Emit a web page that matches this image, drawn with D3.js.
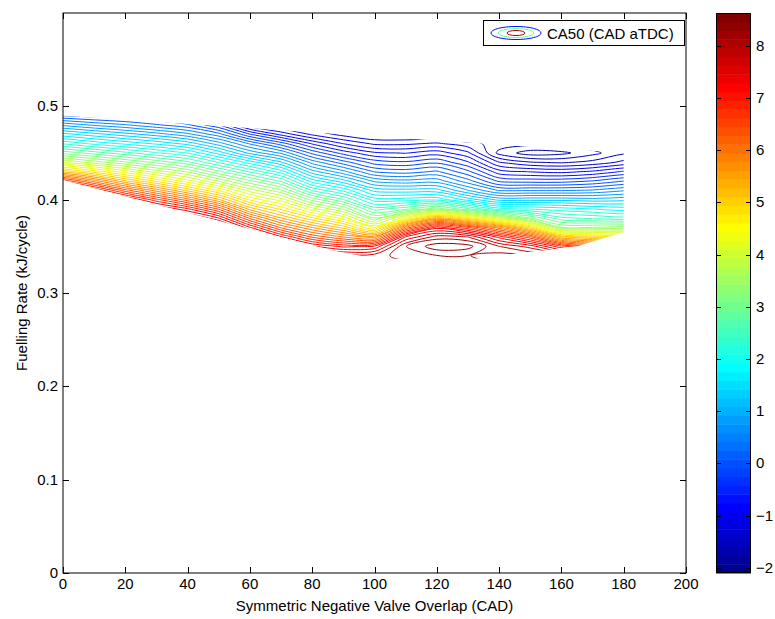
<!DOCTYPE html>
<html>
<head>
<meta charset="utf-8">
<script src="https://cdn.jsdelivr.net/npm/d3@7"></script>
<style>
  html, body { margin: 0; padding: 0; background: #fff; }
  svg { display: block; font-family: "Liberation Sans", Arial, Helvetica, sans-serif; }
</style>
</head>
<body>
<svg id="chart" width="775" height="619"></svg>
<script>
// Sample grid: symmetric negative valve overlap (CAD) and fuelling rate (kJ/cycle)
const overlapCAD = [-10, 0, 10, 20, 30, 40, 50, 60, 70, 80, 90, 100, 110, 120, 130, 140, 150, 160, 170, 180, 190];
const fuelRate = [0.50, 0.49, 0.48, 0.47, 0.46, 0.45, 0.44, 0.43, 0.42, 0.41, 0.40, 0.39, 0.38, 0.37, 0.36, 0.35, 0.34, 0.33, 0.32];

// CA50 (CAD aTDC), one column per overlap value, rows follow fuelRate
const ca50ByOverlap = [
  [-0.3, 0.2, 1.0, 1.75, 2.5, 3.3, 4.2, 5.4, 6.9, 7.9, 8.4, 8.6, 8.6, 8.6, 8.6, 8.6, 8.6, 8.6, 8.6],
  [-0.5, 0.0, 0.8, 1.55, 2.3, 3.1, 4.0, 5.2, 6.7, 7.8, 8.4, 8.6, 8.6, 8.6, 8.6, 8.6, 8.6, 8.6, 8.6],
  [-0.7, -0.1, 0.6, 1.35, 2.05, 2.85, 3.7, 4.75, 6.0, 7.2, 8.1, 8.5, 8.6, 8.6, 8.6, 8.6, 8.6, 8.6, 8.6],
  [-0.8, -0.2, 0.45, 1.15, 1.85, 2.6, 3.4, 4.3, 5.3, 6.4, 7.5, 8.3, 8.6, 8.6, 8.6, 8.6, 8.6, 8.6, 8.6],
  [-0.9, -0.3, 0.25, 0.95, 1.65, 2.35, 3.1, 3.9, 4.8, 5.8, 6.8, 7.7, 8.4, 8.6, 8.6, 8.6, 8.6, 8.6, 8.6],
  [-1.0, -0.5, 0.05, 0.7, 1.4, 2.1, 2.8, 3.55, 4.3, 5.2, 6.2, 7.2, 8.0, 8.5, 8.6, 8.6, 8.6, 8.6, 8.6],
  [-1.3, -1.0, -0.4, 0.3, 0.95, 1.6, 2.3, 3.0, 3.75, 4.6, 5.5, 6.5, 7.4, 8.2, 8.6, 8.6, 8.6, 8.6, 8.6],
  [-1.6, -1.5, -1.2, -0.4, 0.4, 1.0, 1.8, 2.5, 3.2, 3.9, 4.6, 5.4, 6.3, 7.2, 8.0, 8.5, 8.6, 8.6, 8.6],
  [-1.8, -1.7, -1.5, -0.9, -0.1, 0.6, 1.3, 2.0, 2.7, 3.4, 4.1, 4.8, 5.5, 6.3, 7.2, 8.0, 8.5, 8.6, 8.6],
  [-2.0, -1.9, -1.7, -1.3, -0.65, -0.05, 0.55, 1.15, 1.8, 2.5, 3.3, 4.1, 4.9, 5.7, 6.5, 7.4, 8.2, 8.6, 8.6],
  [-2.0, -2.0, -1.8, -1.55, -1.05, -0.5, 0.1, 0.7, 1.35, 2.05, 2.75, 3.55, 4.35, 5.2, 6.1, 7.1, 7.9, 8.3, 8.4],
  [-2.1, -2.0, -1.9, -1.7, -1.3, -0.8, -0.3, 0.2, 0.8, 1.4, 2.0, 2.65, 3.4, 4.4, 5.8, 7.2, 7.9, 8.1, 8.2],
  [-2.1, -2.0, -1.9, -1.72, -1.3, -0.85, -0.38, 0.12, 0.7, 1.35, 2.0, 2.9, 4.4, 6.2, 7.6, 8.2, 8.1, 7.9, 7.9],
  [-2.1, -2.0, -1.9, -1.75, -1.22, -0.72, -0.25, 0.25, 0.75, 1.35, 2.05, 3.3, 5.5, 7.3, 8.1, 8.55, 8.2, 7.8, 7.7],
  [-2.1, -2.0, -2.0, -1.85, -1.4, -1.0, -0.6, -0.15, 0.3, 0.85, 1.6, 2.8, 4.8, 6.8, 8.0, 8.5, 8.2, 7.9, 7.8],
  [-2.1, -2.1, -2.0, -1.9, -1.55, -1.75, -1.25, -0.75, -0.25, 0.4, 1.2, 2.2, 4.0, 6.0, 7.3, 8.0, 8.3, 8.3, 8.3],
  [-2.0, -2.0, -2.0, -1.9, -1.6, -2.0, -1.45, -0.85, -0.3, 0.4, 1.2, 2.1, 3.2, 5.0, 6.6, 7.7, 8.2, 8.4, 8.4],
  [-1.9, -1.9, -1.85, -1.8, -1.55, -1.95, -1.5, -0.9, -0.3, 0.4, 1.2, 2.0, 2.6, 3.4, 5.3, 7.0, 8.0, 8.4, 8.4],
  [-1.8, -1.8, -1.75, -1.7, -1.5, -1.75, -1.4, -0.8, -0.2, 0.45, 1.15, 1.9, 2.5, 3.4, 5.0, 6.6, 7.8, 8.3, 8.4],
  [-1.7, -1.7, -1.65, -1.6, -1.45, -1.5, -1.2, -0.6, 0.0, 0.6, 1.2, 1.8, 2.4, 3.5, 4.8, 6.3, 7.5, 8.2, 8.4],
  [-1.7, -1.7, -1.6, -1.55, -1.4, -1.45, -1.1, -0.5, 0.1, 0.7, 1.3, 1.9, 2.5, 3.6, 5.0, 6.5, 7.6, 8.2, 8.4]
];

// Outline of the tested operating region
const hullOverlap = [0, 180, 180, 165, 150, 130, 100, 86, 0];
const hullFuel = [0.490, 0.450, 0.365, 0.350, 0.344, 0.336, 0.337, 0.346, 0.421];

// Colour limits, number of contour levels and tick values
const colorLimits = [-2.1, 8.63];
const levelCount = 50;
const xTicks = [0, 20, 40, 60, 80, 100, 120, 140, 160, 180, 200];
const yTicks = [0, 0.1, 0.2, 0.3, 0.4, 0.5];
const cbarTicks = [-2, -1, 0, 1, 2, 3, 4, 5, 6, 7, 8];

// MATLAB-style jet colormap with m entries
function jet(m) {
  const n = Math.ceil(m / 4);
  const u = [];
  for (let i = 1; i <= n; i++) u.push(i / n);
  for (let i = 0; i < n - 1; i++) u.push(1);
  for (let i = n; i >= 1; i--) u.push(i / n);
  const off = Math.ceil(n / 2) - (m % 4 === 1 ? 1 : 0);
  const J = d3.range(m).map(() => [0, 0, 0]);
  u.forEach((val, k) => {
    const g = off + k + 1, r = g + n, b = g - n;
    if (r >= 1 && r <= m) J[r - 1][0] = val;
    if (g >= 1 && g <= m) J[g - 1][1] = val;
    if (b >= 1 && b <= m) J[b - 1][2] = val;
  });
  return J.map(c => d3.rgb(c[0] * 255, c[1] * 255, c[2] * 255).formatHex());
}
const cmap = jet(64);
function colorOf(v) {
  const t = (v - colorLimits[0]) / (colorLimits[1] - colorLimits[0]);
  return cmap[Math.max(0, Math.min(63, Math.floor(t * 64)))];
}

const svg = d3.select("#chart");
const plot = { left: 63, right: 686, top: 13, bottom: 573 };
const cbar = { left: 716, right: 751, top: 13, bottom: 573 };

const x = d3.scaleLinear().domain([0, 200]).range([plot.left, plot.right]);
const y = d3.scaleLinear().domain([0, 0.6]).range([plot.bottom, plot.top]);

// Contour lines
const nx = overlapCAD.length, ny = fuelRate.length;
const grid = new Array(nx * ny);
for (let j = 0; j < ny; j++)
  for (let i = 0; i < nx; i++)
    grid[j * nx + i] = ca50ByOverlap[i][j];

const step = (colorLimits[1] - colorLimits[0]) / (levelCount + 1);
const levels = d3.range(1, levelCount + 1).map(k => colorLimits[0] + k * step);

const gx = d3.scaleLinear().domain([0.5, nx - 0.5]).range([overlapCAD[0], overlapCAD[nx - 1]]);
const gy = d3.scaleLinear().domain([0.5, ny - 0.5]).range([fuelRate[0], fuelRate[ny - 1]]);

const contours = d3.contours().size([nx, ny]).smooth(true).thresholds(levels)(grid);

const defs = svg.append("defs");
defs.append("clipPath").attr("id", "region")
  .append("path")
  .attr("d", d3.line()(hullOverlap.map((o, k) => [x(o), y(hullFuel[k])])) + "Z");

const ringLine = d3.line().curve(d3.curveCatmullRomClosed.alpha(0.5));
const gC = svg.append("g").attr("clip-path", "url(#region)");
contours.forEach(c => {
  const col = colorOf(c.value);
  c.coordinates.forEach(poly => {
    poly.forEach(ring => {
      const pts = ring.slice(0, -1).map(p => [x(gx(p[0])), y(gy(p[1]))]);
      gC.append("path")
        .attr("d", ringLine(pts))
        .attr("fill", "none")
        .attr("stroke", col)
        .attr("stroke-width", 1);
    });
  });
});

// Axes frame and ticks
const axisG = svg.append("g");
axisG.append("rect")
  .attr("x", plot.left).attr("y", plot.top)
  .attr("width", plot.right - plot.left).attr("height", plot.bottom - plot.top)
  .attr("fill", "none").attr("stroke", "#000").attr("stroke-width", 1);

const tl = 6;
xTicks.forEach(t => {
  const px = Math.round(x(t)) + 0.5;
  axisG.append("line").attr("x1", px).attr("x2", px).attr("y1", plot.bottom).attr("y2", plot.bottom - tl).attr("stroke", "#000");
  axisG.append("line").attr("x1", px).attr("x2", px).attr("y1", plot.top).attr("y2", plot.top + tl).attr("stroke", "#000");
  axisG.append("text").attr("x", x(t)).attr("y", plot.bottom + 16)
    .attr("text-anchor", "middle").attr("font-size", 15).text(d3.format("d")(t));
});
yTicks.forEach(t => {
  const py = Math.round(y(t)) + 0.5;
  axisG.append("line").attr("x1", plot.left).attr("x2", plot.left + tl).attr("y1", py).attr("y2", py).attr("stroke", "#000");
  axisG.append("line").attr("x1", plot.right).attr("x2", plot.right - tl).attr("y1", py).attr("y2", py).attr("stroke", "#000");
  axisG.append("text").attr("x", plot.left - 5).attr("y", y(t) + 5)
    .attr("text-anchor", "end").attr("font-size", 15).text(t === 0 ? "0" : d3.format(".1f")(t));
});

svg.append("text").attr("x", (plot.left + plot.right) / 2).attr("y", 611)
  .attr("text-anchor", "middle").attr("font-size", 15)
  .text("Symmetric Negative Valve Overlap (CAD)");
svg.append("text")
  .attr("transform", `translate(27,${(plot.top + plot.bottom) / 2}) rotate(-90)`)
  .attr("text-anchor", "middle").attr("font-size", 15)
  .text("Fuelling Rate (kJ/cycle)");

// Legend
const lg = svg.append("g");
lg.append("rect").attr("x", 483.5).attr("y", 20.5).attr("width", 201).attr("height", 25)
  .attr("fill", "#fff").attr("stroke", "#000").attr("stroke-width", 1);
const lcx = 516, lcy = 33;
[[25, 6.5, cmap[8]], [18, 4.5, cmap[30]], [9, 2.5, cmap[60]]].forEach(e => {
  lg.append("ellipse").attr("cx", lcx).attr("cy", lcy).attr("rx", e[0]).attr("ry", e[1])
    .attr("fill", "none").attr("stroke", e[2]).attr("stroke-width", 1);
});
lg.append("text").attr("x", 547).attr("y", 39).attr("font-size", 15).text("CA50 (CAD aTDC)");

// Colorbar
const cy = d3.scaleLinear().domain(colorLimits).range([cbar.bottom, cbar.top]);
const cb = svg.append("g");
cmap.forEach((c, k) => {
  const v0 = colorLimits[0] + k * (colorLimits[1] - colorLimits[0]) / 64;
  const v1 = colorLimits[0] + (k + 1) * (colorLimits[1] - colorLimits[0]) / 64;
  cb.append("rect").attr("x", cbar.left).attr("width", cbar.right - cbar.left)
    .attr("y", cy(v1)).attr("height", cy(v0) - cy(v1) + 0.5).attr("fill", c);
});
cb.append("rect").attr("x", cbar.left + 0.5).attr("y", cbar.top + 0.5)
  .attr("width", cbar.right - cbar.left - 1).attr("height", cbar.bottom - cbar.top - 1)
  .attr("fill", "none").attr("stroke", "#000");
cbarTicks.forEach(t => {
  const py = Math.round(cy(t)) + 0.5;
  cb.append("line").attr("x1", cbar.left).attr("x2", cbar.left + 5).attr("y1", py).attr("y2", py).attr("stroke", "#000");
  cb.append("line").attr("x1", cbar.right).attr("x2", cbar.right - 5).attr("y1", py).attr("y2", py).attr("stroke", "#000");
  cb.append("text").attr("x", cbar.right + 5).attr("y", cy(t) + 5).attr("font-size", 15)
    .text(t < 0 ? "\u2212" + Math.abs(t) : String(t));
});
</script>
</body>
</html>
